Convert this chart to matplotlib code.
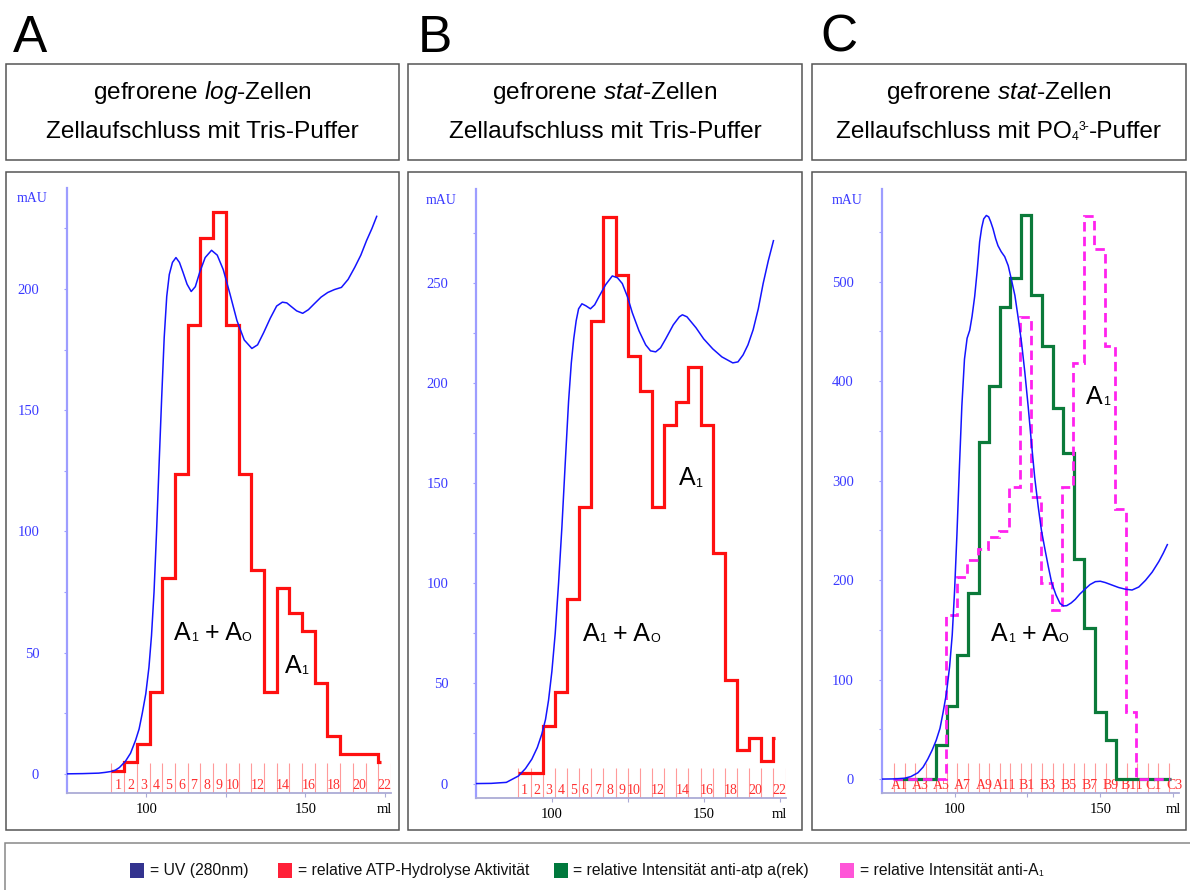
import numpy as np
import matplotlib
matplotlib.use('Agg')
import matplotlib.pyplot as plt
from matplotlib.patches import Rectangle
from matplotlib.ticker import MultipleLocator, FixedLocator
from matplotlib.transforms import offset_copy

plt.rcParams['font.family'] = ['Liberation Sans', 'DejaVu Sans']
plt.rcParams['mathtext.fontset'] = 'custom'
plt.rcParams['mathtext.rm'] = 'Liberation Sans'
plt.rcParams['mathtext.it'] = 'Liberation Sans:italic'
plt.rcParams['mathtext.bf'] = 'Liberation Sans:bold'

# ---------------- data ----------------
panel_letters = ['A', 'B', 'C']
title_top = [r'gefrorene $\mathit{log}$-Zellen',
             r'gefrorene $\mathit{stat}$-Zellen',
             r'gefrorene $\mathit{stat}$-Zellen']
# second title line as runs: (text, relative size, baseline shift in em)
title_bottom = [[('Zellaufschluss mit Tris-Puffer', 1, 0)],
                [('Zellaufschluss mit Tris-Puffer', 1, 0)],
                [('Zellaufschluss mit PO', 1, 0), ('4', 0.5, -0.08),
                 ('3-', 0.5, 0.33), ('-Puffer', 1, 0)]]

# UV (280 nm) traces: elution volume (ml) and absorbance (mAU)
uv_a_ml = [74.8, 80, 85, 87, 89, 90.2, 91.5, 93.4, 95, 96.6, 97.7, 98.7, 99.8, 100.8,
           101.6, 102.4, 103.2, 104, 104.8, 105.6, 106.4, 107.2, 108.2, 109.3, 110.4,
           111.5, 112.8, 114.1, 115.4, 116.8, 118.5, 120.5, 122.3, 124.2, 126.3, 128.5,
           130.8, 133.2, 135, 136.9, 139, 141, 142.8, 144.2, 145.4, 147.3, 149.2, 151,
           152.9, 155, 157.1, 159.2, 161.4, 163.5, 165.6, 167.5, 169.3, 171, 172.5]
uv_a = [0, 0.1, 0.3, 0.6, 1.0, 1.5, 2.6, 5.2, 8.5, 13.9, 18.5, 25, 33, 44,
        57, 75, 100, 128, 155, 180, 197, 206, 211, 213, 211,
        207, 202, 199, 201, 207, 213, 216, 214, 208, 198, 187,
        179, 175.5, 177, 182, 188, 193, 194.6, 194.3, 193, 191, 190, 191.5,
        194, 196.7, 198.6, 199.8, 200.7, 204, 209, 214, 220, 225, 230]

uv_b_ml = [74.85, 80, 85, 89, 91.3, 93.4, 95.2, 96.7, 97.9, 98.9, 100, 101.1, 102.2,
           103.3, 104.4, 105.5, 106.4, 107.2, 108, 108.8, 109.9, 111.2, 112.7, 114.1,
           115.5, 117.7, 119.9, 121.6, 123.2, 124.9, 126.5, 128.7, 130.9, 132.5, 134.2,
           135.8, 137.5, 140, 142, 143, 144.5, 147.5, 150, 153, 156, 159.6, 161.3, 163,
           164.6, 166.3, 168, 169.6, 171.3, 173]
uv_b = [0, 0.1, 0.6, 3.8, 7.5, 12.2, 18, 24.8, 32, 41.6, 56, 75, 100,
        128, 160, 190.8, 210, 222, 231, 237, 239.5, 238.5, 237, 239,
        243, 249, 253.4, 252.5, 249.6, 243, 235, 226, 219, 216, 215.5,
        217.5, 222, 229, 233, 234, 233, 227.5, 222, 217, 213, 210, 210.5, 214,
        219, 226.5, 237, 249.6, 261, 271]

uv_c_ml = [75.3, 80, 82.8, 85, 87.4, 89.2, 90.8, 92.3, 93.7, 95, 96, 97.2, 98.3, 99.2,
           100, 100.8, 101.7, 102.5, 103.4, 104.3, 105.2, 106, 106.9, 107.8, 108.6,
           109.3, 110, 110.9, 111.7, 112.4, 113.2, 114.1, 114.9, 116, 117.2, 118.4,
           119.5, 120.7, 121.8, 123, 124.1, 125.3, 126.4, 127.5, 128.7, 129.8, 131,
           132.2, 133.3, 134.8, 136.2, 137.4, 138.5, 140, 141.4, 143, 144.8, 146.5,
           148.3, 150, 151.7, 154, 156.3, 158.6, 160.9, 163.2, 165.5, 167.8, 170.1,
           171.6, 173]
uv_c = [0, 0.2, 0.8, 2.5, 6.3, 12, 20, 29, 39, 51, 66, 86, 113, 145,
        189, 245, 316, 375, 422, 443, 451, 465, 485, 512, 540,
        554, 563, 566.4, 565, 560, 553, 543, 536, 530, 525, 516,
        502, 486, 464, 438, 409, 373, 337, 303, 273.7, 250, 231,
        213, 197.5, 185, 176.4, 174, 174.3, 177, 180.6, 186, 191, 195.5,
        198.4, 198.8, 197.5, 195, 192.5, 190.8, 190, 193, 199.7, 208, 218.7,
        227, 235.6]

# relative ATP hydrolysis activity per fraction (panels A, B)
act_a = [1.2, 4.9, 12.2, 33.7, 80.6, 123.7, 185, 221, 232, 185, 123.7, 84,
         33.7, 76.8, 66.2, 58.9, 37.4, 15.8, 8.3, 8.3, 8.3, 4.9]
act_b = [5.5, 5.5, 28.6, 45.8, 92, 138, 230.7, 282.8, 253.8, 213.4, 196.2, 138,
         178.8, 190.5, 207.8, 178.8, 115, 51.7, 17, 22.7, 11.3, 22.7]
frac_ab_labels = ['1', '2', '3', '4', '5', '6', '7', '8', '9', '10', '', '12',
                  '', '14', '', '16', '', '18', '', '20', '', '22']
frac_ab_start, frac_ab_width = 89.0, 4.0
trace_end_a, trace_end_b = 173.8, 173.6

# Western blot intensities per fraction (panel C)
green_c = [0, 0, 0, 0, 33.8, 73.6, 124.4, 187, 339, 395.5, 474.6, 503.4, 566.4,
           486, 435.3, 373, 327.8, 220.8, 152.3, 67.7, 38.9, 0, 0, 0, 0, 0, 0]
magenta_c = [0, 0, 0, 0, 0, 164.6, 202.6, 220, 231, 242.8, 249, 294, 464,
             283, 197.5, 170, 294, 418, 566, 532.6, 435, 271.6, 67.3, 0, 0, 0, 0]
frac_c_labels = ['A1', '', 'A3', '', 'A5', '', 'A7', '', 'A9', '', 'A11', '', 'B1',
                 '', 'B3', '', 'B5', '', 'B7', '', 'B9', '', 'B11', '', 'C1', '', 'C3']
frac_c_start, frac_c_width = 79.2, 3.63
trace_end_c = 174.1

legend_labels = [[('= UV (280nm)', 1, 0)],
                 [('= relative ATP-Hydrolyse Aktivität', 1, 0)],
                 [('= relative Intensität anti-atp a(rek)', 1, 0)],
                 [('= relative Intensität anti-A', 1, 0), ('1', 0.55, -0.05)]]

note_both = [('A', 1, 0), ('1', 0.5, -0.05), (' + A', 1, 0), ('O', 0.5, -0.04)]
note_one = [('A', 1, 0), ('1', 0.5, -0.05)]

# ---------------- style / layout ----------------
W, H = 1190, 890
UV = '#1414ff'
RED = '#ff1010'
GREEN = '#0b7a3a'
MAGENTA = '#ff22ee'
TICK_BLUE = '#3a3aff'
AXIS_BLUE = '#9d9dff'
FRAC_RED = '#ff9a9a'
BOX = '#555555'
legend_colors = ['#33338f', '#ff2038', '#00793d', '#ff55d8']

title_boxes = [(6, 64, 399, 160), (408, 64, 802, 160), (812, 64, 1186, 160)]
chart_boxes = [(6, 172, 399, 830), (408, 172, 802, 830), (812, 172, 1186, 830)]
axes_px = [(67, 188, 391, 793), (476, 189, 785.6, 798), (881.7, 189, 1179, 793)]
letter_x = [13, 418, 820]
legend_sq_x = [130, 278, 554, 840]
legend_txt_x = [150, 298, 573, 860]

fig = plt.figure(figsize=(W / 100, H / 100), dpi=100)
renderer = fig.canvas.get_renderer()


def px_rect(x0, y0, x1, y1):
    return [x0 / W, 1 - y1 / H, (x1 - x0) / W, (y1 - y0) / H]


def add_box(x0, y0, x1, y1, **kw):
    l, b, w, h = px_rect(x0, y0, x1, y1)
    fig.add_artist(Rectangle((l, b), w, h, transform=fig.transFigure, **kw))


def rich_text(target, x, y, runs, size, transform, ha='left', **kw):
    # lay out runs of differently sized text on one baseline
    pieces, total = [], 0.0
    for s, rel, shift in runs:
        t = target.text(x, y, s, fontsize=size * rel, va='baseline', ha='left',
                        transform=transform, **kw)
        w = t.get_window_extent(renderer).width
        pieces.append((t, shift, w))
        total += w
    dx = -total / 2 if ha == 'center' else 0.0
    for t, shift, w in pieces:
        t.set_transform(offset_copy(transform, fig=fig, x=dx,
                                    y=shift * size * fig.dpi / 72, units='dots'))
        dx += w


def setup_axes(ax, ylim, major, minor):
    ax.set_facecolor('none')
    ax.set_xlim(75, 177)
    ax.set_ylim(*ylim)
    for s in ('top', 'right'):
        ax.spines[s].set_visible(False)
    ax.spines['left'].set_color(AXIS_BLUE)
    ax.spines['left'].set_linewidth(1.6)
    ax.spines['bottom'].set_color('#ababd6')
    ax.spines['bottom'].set_linewidth(1.3)
    ax.yaxis.set_major_locator(MultipleLocator(major))
    ax.yaxis.set_minor_locator(MultipleLocator(minor))
    ax.set_xticks([100, 150, 175], ['100', '150', 'ml'])
    ax.xaxis.set_minor_locator(FixedLocator([125]))
    ax.tick_params(axis='y', which='both', colors=AXIS_BLUE, labelcolor=TICK_BLUE,
                   length=2, width=0.8, pad=18, labelsize=10.5)
    ax.tick_params(axis='x', which='both', colors='#ababd6', labelcolor='black',
                   length=3, width=0.8, pad=4, labelsize=10.5)
    for lab in ax.get_xticklabels() + ax.get_yticklabels():
        lab.set_family('Liberation Serif')
    ax.annotate('mAU', xy=(0, 1), xycoords='axes fraction', xytext=(-19, -11),
                textcoords='offset pixels', ha='right', va='center',
                color=TICK_BLUE, fontsize=10, family='Liberation Serif')


def fractions(ax, start, width, labels):
    n = len(labels)
    edges = start + width * np.arange(n + 1)
    tr = ax.get_xaxis_transform()
    ax.vlines(edges, 0, 0.05, transform=tr, colors=FRAC_RED, lw=0.8, zorder=1)
    centers = edges[:-1] + width / 2
    for c, lab in zip(centers, labels):
        if lab:
            ax.text(c, 0.013, lab, transform=tr, ha='center', va='center',
                    color='#ff3030', fontsize=10, family='Liberation Serif', zorder=2)


def stair_edges(start, width, n, end):
    e = start + width * np.arange(n + 1)
    e[-1] = end
    return e


def note(ax, x, y, runs):
    rich_text(ax, x, y, runs, 18, ax.transData, color='black', zorder=6)


# panel frames, titles, letters
for i in range(3):
    add_box(*title_boxes[i], fill=False, ec=BOX, lw=1.1)
    add_box(*chart_boxes[i], fill=False, ec=BOX, lw=1.1)
    x0, _, x1, _ = title_boxes[i]
    cx = (x0 + x1) / 2 / W
    fig.text(cx, 1 - 99 / H, title_top[i], ha='center', va='baseline', fontsize=17.6)
    rich_text(fig, cx, 1 - 138 / H, title_bottom[i], 17.6, fig.transFigure, ha='center')
    fig.text(letter_x[i] / W, 1 - 52 / H, panel_letters[i], ha='left', va='baseline',
             fontsize=37)

# ---- panel A ----
ax = fig.add_axes(px_rect(*axes_px[0]))
setup_axes(ax, (-7.9, 241.7), 50, 25)
fractions(ax, frac_ab_start, frac_ab_width, frac_ab_labels)
ax.stairs(act_a, stair_edges(frac_ab_start, frac_ab_width, len(act_a), trace_end_a),
          baseline=None, color=RED, lw=2.3, zorder=3)
ax.plot(uv_a_ml, uv_a, color=UV, lw=1.1, zorder=4)
note(ax, 108.8, 55.2, note_both)
note(ax, 143.6, 41.7, note_one)

# ---- panel B ----
ax = fig.add_axes(px_rect(*axes_px[1]))
setup_axes(ax, (-7.2, 296.8), 50, 25)
fractions(ax, frac_ab_start, frac_ab_width, frac_ab_labels)
ax.stairs(act_b, stair_edges(frac_ab_start, frac_ab_width, len(act_b), trace_end_b),
          baseline=None, color=RED, lw=2.3, zorder=3)
ax.plot(uv_b_ml, uv_b, color=UV, lw=1.1, zorder=4)
note(ax, 110.2, 71.4, note_both)
note(ax, 141.7, 148.8, note_one)

# ---- panel C ----
ax = fig.add_axes(px_rect(*axes_px[2]))
setup_axes(ax, (-14, 593), 100, 50)
fractions(ax, frac_c_start, frac_c_width, frac_c_labels)
edges_c = stair_edges(frac_c_start, frac_c_width, len(green_c), trace_end_c)
ax.stairs(green_c, edges_c, baseline=None, color=GREEN, lw=2.3, zorder=3)
ax.stairs(magenta_c, edges_c - 0.3, baseline=None, color=MAGENTA, lw=2.0,
          linestyle=(0, (3.4, 1.9)), zorder=3.5)
ax.plot(uv_c_ml, uv_c, color=UV, lw=1.1, zorder=4)
note(ax, 112.6, 139.2, note_both)
note(ax, 145.1, 377.3, note_one)

# ---- legend strip ----
add_box(5, 843, 1196, 896, fill=False, ec='#888888', lw=1.1)
for sx, tx, col, runs in zip(legend_sq_x, legend_txt_x, legend_colors, legend_labels):
    add_box(sx, 863, sx + 14, 878, fc=col, ec='none')
    rich_text(fig, tx / W, 1 - 875 / H, runs, 11.3, fig.transFigure, color='#111111')

fig.savefig('out.png', dpi=100, facecolor='white')
